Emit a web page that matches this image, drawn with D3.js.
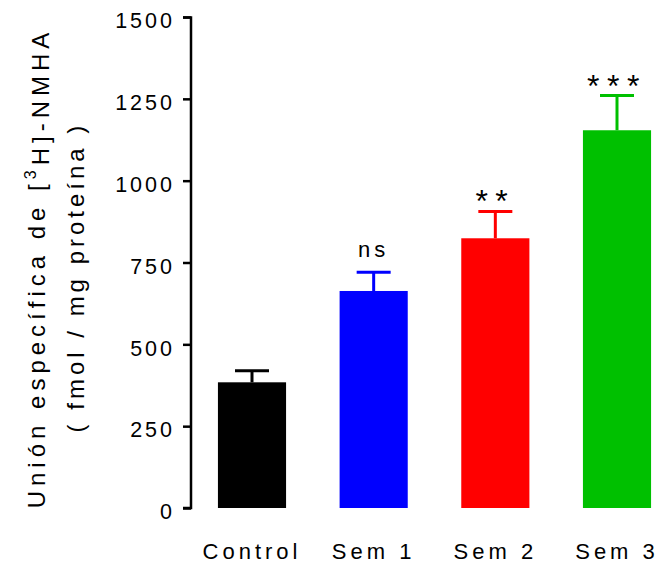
<!DOCTYPE html>
<html><head><meta charset="utf-8">
<script src="https://cdn.jsdelivr.net/npm/d3@7"></script>
<style>
body{margin:0;background:#fff;}
text{font-family:"Liberation Sans",Arial,sans-serif;fill:#000;}
</style></head>
<body><svg id="c" width="661" height="563"></svg>
<script>
const categories = ["Control","Sem 1","Sem 2","Sem 3"];
const means = [384, 663, 824, 1154];
const errors = [35, 57, 82, 106];
const colors = ["#000000","#0000FF","#FF0000","#00C000"];
const annotations = ["", "ns", "**", "***"];
const yTicks = [0,250,500,750,1000,1250,1500];

const svg = d3.select("#c");
const y = d3.scaleLinear().domain([0,1500]).range([508,17]);
const x = d3.scalePoint().domain(categories).range([252,617]);
const bw = x.step()*0.56;
const capW = 34;

// bars
svg.selectAll("rect.bar").data(categories).join("rect")
  .attr("x", d=>x(d)-bw/2).attr("width", bw)
  .attr("y", (d,i)=>y(means[i])).attr("height",(d,i)=>y(0)-y(means[i]))
  .attr("fill",(d,i)=>colors[i]);

// error bars
const eb = svg.selectAll("g.eb").data(categories).join("g");
eb.append("line").attr("x1",d=>x(d)).attr("x2",d=>x(d))
  .attr("y1",(d,i)=>y(means[i])).attr("y2",(d,i)=>y(means[i]+errors[i]))
  .attr("stroke",(d,i)=>colors[i]).attr("stroke-width",3);
eb.append("line").attr("x1",d=>x(d)-capW/2).attr("x2",d=>x(d)+capW/2)
  .attr("y1",(d,i)=>y(means[i]+errors[i])).attr("y2",(d,i)=>y(means[i]+errors[i]))
  .attr("stroke",(d,i)=>colors[i]).attr("stroke-width",3);

// annotations
svg.selectAll("text.ann").data(categories).join("text")
  .attr("x", d=>x(d)).attr("y",(d,i)=>y(means[i]+errors[i]) + (annotations[i]==="ns" ? -15 : 1))
  .attr("text-anchor","middle")
  .style("font-size",(d,i)=>annotations[i]==="ns" ? "22px" : "32px")
  .style("letter-spacing",(d,i)=>annotations[i]==="ns" ? "4px" : "7.5px")
  .text((d,i)=>annotations[i]);

// y axis
const yAxis = d3.axisLeft(y).tickValues(yTicks).tickSize(8).tickPadding(8).tickFormat(d3.format("d"));
const ga = svg.append("g").attr("transform","translate(191,0)").call(yAxis);
ga.select(".domain").attr("stroke","#000").attr("stroke-width",2.5).attr("d","M-8,17.5H0V508H-8");
ga.selectAll(".tick line").attr("stroke","#000").attr("stroke-width",2.5);
ga.selectAll(".tick text").style("font-size","21.5px").style("letter-spacing","3px")
  .style("font-family","'Liberation Sans',Arial,sans-serif").attr("fill","#000").attr("dy","0.5em");

// x labels
svg.selectAll("text.xl").data(categories).join("text")
  .attr("x", d=>x(d)).attr("y",559).attr("text-anchor","middle")
  .style("font-size","22px").style("letter-spacing","4px").text(d=>d);

// y title
const t1 = svg.append("text").attr("transform","translate(45,268) rotate(-90)")
  .attr("text-anchor","middle").style("font-size","24px").style("letter-spacing","5px");
t1.append("tspan").text("Unión específica de [");
t1.append("tspan").attr("dy","-0.55em").style("font-size","16px").text("3");
t1.append("tspan").attr("dy","0.55em").text("H]-NMHA");
svg.append("text").attr("transform","translate(84,277) rotate(-90)")
  .attr("text-anchor","middle").style("font-size","24px").style("letter-spacing","4px")
  .text("( fmol / mg proteína )");
</script></body></html>
